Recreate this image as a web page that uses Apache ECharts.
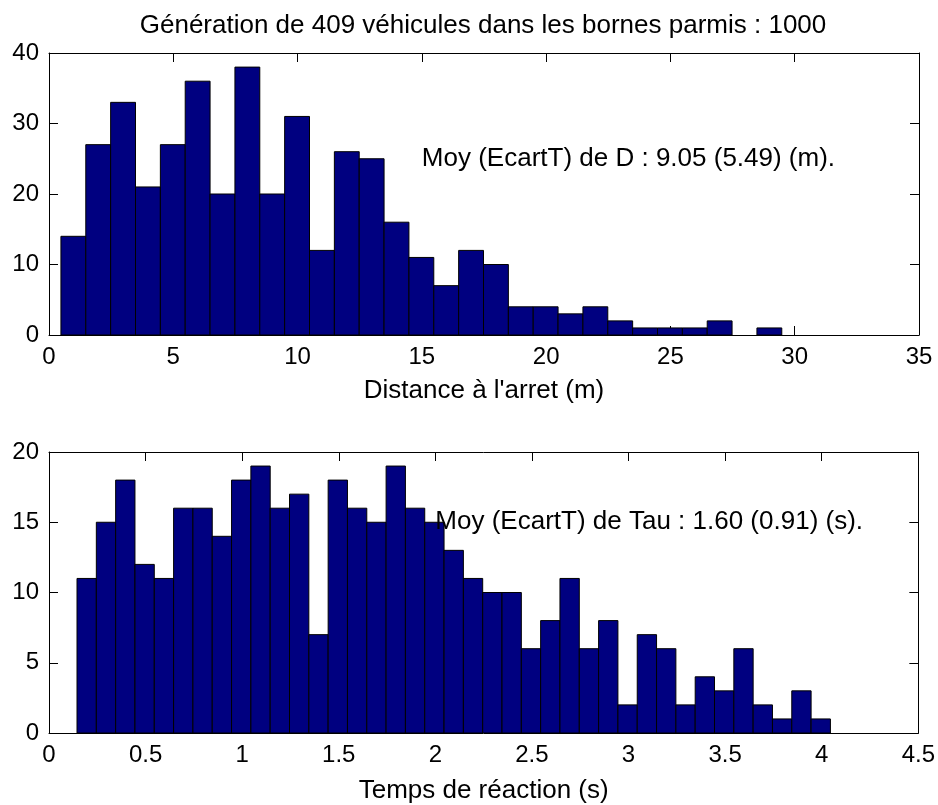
<!DOCTYPE html>
<html>
<head>
<meta charset="utf-8">
<script src="https://cdn.jsdelivr.net/npm/echarts@6/dist/echarts.min.js"></script>
<style>
html,body{margin:0;padding:0;background:#fff;}
#chart{width:938px;height:805px;}
</style>
</head>
<body>
<div id="chart"></div>
<script>
// ---- Data ----
const titleText = 'Génération de 409 véhicules dans les bornes parmis : 1000';

// Top histogram: stopping distance (m)
const distBinCenters = [0.98,1.98,2.98,3.98,4.98,5.98,6.98,7.98,8.98,9.98,10.98,11.98,12.98,13.98,14.98,15.98,16.98,17.98,18.98,19.98,20.98,21.98,22.98,23.98,24.98,25.98,26.98,27.98,28.98];
const distCounts = [14,27,33,21,27,36,20,38,20,31,12,26,25,16,11,7,12,10,4,4,3,4,2,1,1,1,2,0,1];
const distBinWidth = 1.0;
const distXTicks = [0,5,10,15,20,25,30,35];
const distYTicks = [0,10,20,30,40];
const distXLabel = "Distance à l'arret (m)";
const distNote = 'Moy (EcartT) de D : 9.05 (5.49) (m).';
const distNoteAt = [15, 25];

// Bottom histogram: reaction time (s)
const tauBinCenters = [0.195,0.295,0.395,0.495,0.595,0.695,0.795,0.895,0.995,1.095,1.195,1.295,1.395,1.495,1.595,1.695,1.795,1.895,1.995,2.095,2.195,2.295,2.395,2.495,2.595,2.695,2.795,2.895,2.995,3.095,3.195,3.295,3.395,3.495,3.595,3.695,3.795,3.895,3.995];
const tauCounts = [11,15,18,12,11,16,16,14,18,19,16,17,7,18,16,15,19,16,15,13,11,10,10,6,8,11,6,8,2,7,6,2,4,3,6,2,1,3,1];
const tauBinWidth = 0.1;
const tauXTicks = [0,0.5,1,1.5,2,2.5,3,3.5,4,4.5];
const tauYTicks = [0,5,10,15,20];
const tauXLabel = 'Temps de réaction (s)';
const tauNote = 'Moy (EcartT) de Tau : 1.60 (0.91) (s).';
const tauNoteAt = [2, 15];

// ---- Chart ----
const FONT = '"Liberation Sans", Arial, sans-serif';
const TICK_FS = 24;
const TEXT_FS = 26;
const BAR_COLOR = '#000080';

function histRenderer(width) {
  return function (params, api) {
    const c = api.value(0), h = api.value(1);
    if (!h) return null;
    const p0 = api.coord([c - width / 2, h]);
    const p1 = api.coord([c + width / 2, 0]);
    return {
      type: 'rect',
      shape: { x: p0[0], y: p0[1], width: p1[0] - p0[0], height: p1[1] - p0[1] },
      style: { fill: BAR_COLOR, stroke: '#000', lineWidth: 1 }
    };
  };
}

function xAxes(gridIndex, ticks, name, gap) {
  const min = ticks[0], max = ticks[ticks.length - 1], interval = ticks[1] - ticks[0];
  const common = {
    type: 'value', gridIndex, min, max, interval,
    axisLine: { show: true, onZero: false, lineStyle: { color: '#000', width: 1 } },
    axisTick: { show: true, inside: true, length: 9, lineStyle: { color: '#000', width: 1 } },
    splitLine: { show: false }
  };
  return [
    Object.assign({}, common, {
      position: 'bottom',
      axisLabel: { show: true, color: '#000', fontFamily: FONT, fontSize: TICK_FS, margin: 10,
        formatter: v => String(v) },
      name, nameLocation: 'middle', nameGap: gap,
      nameTextStyle: { color: '#000', fontFamily: FONT, fontSize: TEXT_FS }
    }),
    Object.assign({}, common, { position: 'top', axisLabel: { show: false } })
  ];
}

function yAxes(gridIndex, ticks) {
  const min = ticks[0], max = ticks[ticks.length - 1], interval = ticks[1] - ticks[0];
  const common = {
    type: 'value', gridIndex, min, max, interval,
    axisLine: { show: true, onZero: false, lineStyle: { color: '#000', width: 1 } },
    axisTick: { show: true, inside: true, length: 9, lineStyle: { color: '#000', width: 1 } },
    splitLine: { show: false }
  };
  return [
    Object.assign({}, common, {
      position: 'left',
      axisLabel: { show: true, color: '#000', fontFamily: FONT, fontSize: TICK_FS, margin: 10 }
    }),
    Object.assign({}, common, { position: 'right', axisLabel: { show: false } })
  ];
}

function noteSeries(xi, yi, at, text) {
  return {
    type: 'scatter', xAxisIndex: xi, yAxisIndex: yi,
    data: [at], symbolSize: 0, silent: true,
    itemStyle: { opacity: 1 },
    label: { show: true, position: 'right', distance: 0, formatter: text, opacity: 1,
      color: '#000', fontFamily: FONT, fontSize: TEXT_FS },
    z: 10
  };
}

const chart = echarts.init(document.getElementById('chart'), null, { renderer: 'canvas' });

const option = {
  backgroundColor: '#fff',
  animation: false,
  title: {
    text: titleText, left: 478, top: 8, textAlign: 'center',
    textStyle: { color: '#000', fontFamily: FONT, fontSize: TEXT_FS, fontWeight: 'normal' }
  },
  grid: [
    { left: 49, top: 53, width: 870, height: 282, containLabel: false },
    { left: 49, top: 452, width: 870, height: 282, containLabel: false }
  ],
  xAxis: [].concat(xAxes(0, distXTicks, distXLabel, 43), xAxes(1, tauXTicks, tauXLabel, 45)),
  yAxis: [].concat(yAxes(0, distYTicks), yAxes(1, tauYTicks)),
  series: [
    {
      type: 'custom', xAxisIndex: 0, yAxisIndex: 0,
      renderItem: histRenderer(distBinWidth),
      data: distBinCenters.map((c, i) => [c, distCounts[i]]),
      clip: true
    },
    {
      type: 'custom', xAxisIndex: 2, yAxisIndex: 2,
      renderItem: histRenderer(tauBinWidth),
      data: tauBinCenters.map((c, i) => [c, tauCounts[i]]),
      clip: true
    },
    noteSeries(0, 0, distNoteAt, distNote),
    noteSeries(2, 2, tauNoteAt, tauNote)
  ]
};
chart.setOption(option);
</script>
</body>
</html>
